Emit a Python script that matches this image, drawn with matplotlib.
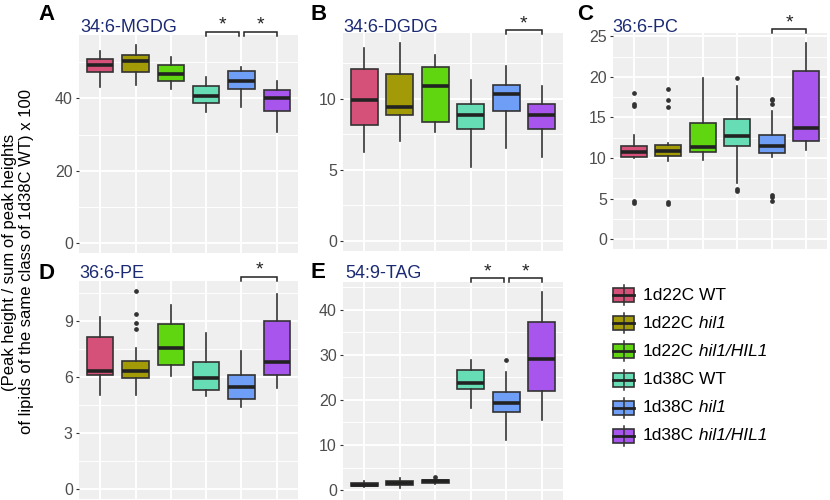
import matplotlib
matplotlib.use('Agg')
import matplotlib.pyplot as plt
import matplotlib.transforms as mtransforms
from matplotlib.patches import Rectangle

plt.rcParams['font.family'] = ['Liberation Sans', 'DejaVu Sans']

# groups / colours (legend text: plain part + italic part)
label_plain = ['1d22C WT', '1d22C', '1d22C', '1d38C WT', '1d38C', '1d38C']
label_ital = ['', 'hil1', 'hil1/HIL1', '', 'hil1', 'hil1/HIL1']
colors = ['#D6517A', '#A39A08', '#5FD60F', '#66DDB4', '#6E9EF6', '#A855EE']

# A: 34:6-MGDG
mgdg_lo = [43.2, 43.8, 42.6, 36.1, 37.7, 30.8]
mgdg_q1 = [47.2, 47.3, 44.9, 38.6, 42.7, 36.4]
mgdg_med = [49.3, 50.2, 46.6, 40.6, 44.7, 40.0]
mgdg_q3 = [51.0, 52.0, 49.1, 43.4, 47.5, 42.2]
mgdg_hi = [53.0, 54.8, 51.4, 45.9, 48.7, 44.9]
mgdg_out = [[], [], [], [], [], []]

# B: 34:6-DGDG
dgdg_lo = [6.25, 7.0, 7.67, 5.22, 6.55, 5.9]
dgdg_q1 = [8.11, 8.83, 8.34, 7.88, 9.11, 7.83]
dgdg_med = [9.93, 9.42, 10.86, 8.83, 10.35, 8.81]
dgdg_q3 = [12.1, 11.73, 12.22, 9.63, 10.98, 9.63]
dgdg_hi = [13.55, 13.9, 13.03, 11.33, 12.26, 10.86]
dgdg_out = [[], [], [], [], [], []]

# C: 36:6-PC
pc_lo = [10.0, 9.65, 9.73, 6.9, 10.1, 10.97]
pc_q1 = [10.14, 10.2, 10.76, 11.47, 10.6, 12.1]
pc_med = [10.76, 10.9, 11.4, 12.7, 11.5, 13.74]
pc_q3 = [11.5, 11.6, 14.37, 14.8, 12.83, 20.7]
pc_hi = [12.83, 11.9, 19.9, 18.9, 15.85, 24.2]
pc_out = [[18.0, 16.7, 16.4, 4.67, 4.5],
          [18.5, 17.2, 16.3, 4.64, 4.4],
          [],
          [19.9, 6.2, 5.9],
          [17.27, 17.1, 16.7, 5.5, 5.26, 4.76],
          []]

# D: 36:6-PE
pe_lo = [5.03, 5.03, 6.06, 4.97, 4.4, 5.38]
pe_q1 = [6.1, 5.92, 6.63, 5.29, 4.81, 6.1]
pe_med = [6.33, 6.33, 7.52, 5.92, 5.47, 6.81]
pe_q3 = [8.11, 6.86, 8.81, 6.78, 6.1, 8.98]
pe_hi = [9.21, 7.52, 9.84, 8.33, 7.38, 10.41]
pe_out = [[], [10.59, 9.34, 8.9, 8.56], [], [], [], []]

# E: 54:9-TAG
tag_lo = [0.7, 0.5, 1.4, 18.2, 11.0, 15.6]
tag_q1 = [0.9, 1.1, 1.6, 22.5, 17.25, 21.9]
tag_med = [1.2, 1.5, 1.9, 23.8, 19.3, 29.0]
tag_q3 = [1.6, 1.9, 2.2, 26.6, 21.7, 37.3]
tag_hi = [1.9, 2.75, 2.4, 28.8, 26.2, 43.9]
tag_out = [[], [], [2.8], [], [28.9], []]

W, H = 830, 500
fig = plt.figure(figsize=(8.3, 5), dpi=100)
navy = '#1B2A73'


def px_axes(x0, y0, x1, y1):
    return fig.add_axes([x0 / W, 1 - y1 / H, (x1 - x0) / W, (y1 - y0) / H])


def panel(box, lo, q1, med, q3, hi, out, ylim, major, minor,
          title, letter, title_xy, letter_xy, pairs, bracket_y):
    ax = px_axes(*box)
    stats = [dict(whislo=lo[i], q1=q1[i], med=med[i], q3=q3[i],
                  whishi=hi[i], fliers=out[i]) for i in range(6)]
    bp = ax.bxp(stats, positions=range(1, 7), widths=0.75, patch_artist=True,
                showcaps=False,
                boxprops=dict(edgecolor='#333333', linewidth=1.2),
                whiskerprops=dict(color='#333333', linewidth=1.2),
                medianprops=dict(color='#222222', linewidth=2.6),
                flierprops=dict(marker='o', markersize=2.4, markerfacecolor='#333333',
                                markeredgecolor='#333333'))
    for patch, c in zip(bp['boxes'], colors):
        patch.set_facecolor(c)
    ax.set_facecolor('#EFEFEF')
    ax.set_xlim(0.4, 6.6)
    ax.set_ylim(*ylim)
    ax.set_xticks(range(1, 7))
    ax.set_xticklabels([])
    ax.tick_params(axis='x', length=0)
    ax.set_yticks(major)
    ax.set_yticks(minor, minor=True)
    ax.tick_params(axis='y', which='major', length=2.5, width=0.8, color='#333333',
                   labelsize=11.5, labelcolor='#4D4D4D', pad=2)
    ax.tick_params(axis='y', which='minor', length=0)
    ax.grid(True, which='major', color='white', linewidth=1.4)
    ax.grid(True, which='minor', axis='y', color='white', linewidth=0.7)
    ax.set_axisbelow(True)
    for s in ax.spines.values():
        s.set_visible(False)

    fig.text(title_xy[0] / W, 1 - title_xy[1] / H, title, color=navy,
             fontsize=13, ha='left', va='baseline')
    fig.text(letter_xy[0] / W, 1 - letter_xy[1] / H, letter, color='black',
             fontsize=16, fontweight='bold', ha='left', va='baseline')

    tr = mtransforms.blended_transform_factory(ax.transData, fig.transFigure)
    yb = 1 - bracket_y / H
    yt = 1 - (bracket_y + 4) / H
    for a, b in pairs:
        ax.plot([a, a, b, b], [yt, yb, yb, yt], color='#222222', linewidth=1.1,
                transform=tr, clip_on=False, solid_joinstyle='miter')
        ax.text((a + b) / 2, 1 - (bracket_y - 2) / H, '*', transform=tr,
                ha='center', va='baseline', fontsize=14, color='#222222')
    return ax


panel((79, 35, 298, 253), mgdg_lo, mgdg_q1, mgdg_med, mgdg_q3, mgdg_hi, mgdg_out,
      (-2.7, 57.5), [0, 20, 40], [10, 30, 50], '34:6-MGDG', 'A',
      (80, 32), (38, 20), [(4, 4.92), (5.08, 6)], 31.5)
panel((343, 33, 563, 251), dgdg_lo, dgdg_q1, dgdg_med, dgdg_q3, dgdg_hi, dgdg_out,
      (-0.7, 14.6), [0, 5, 10], [2.5, 7.5, 12.5], '34:6-DGDG', 'B',
      (343, 32), (310, 20), [(5, 6)], 30)
panel((613, 33, 827, 249), pc_lo, pc_q1, pc_med, pc_q3, pc_hi, pc_out,
      (-1.2, 25.4), [0, 5, 10, 15, 20, 25], [2.5, 7.5, 12.5, 17.5, 22.5],
      '36:6-PC', 'C', (612, 32), (577, 20), [(5, 6)], 29)
panel((79, 281, 298, 499), pe_lo, pe_q1, pe_med, pe_q3, pe_hi, pe_out,
      (-0.53, 11.12), [0, 3, 6, 9], [1.5, 4.5, 7.5, 10.5], '36:6-PE', 'D',
      (79, 278), (38, 279), [(5, 6)], 276.5)
panel((343, 282, 563, 500), tag_lo, tag_q1, tag_med, tag_q3, tag_hi, tag_out,
      (-2.2, 46.1), [0, 10, 20, 30, 40], [5, 15, 25, 35, 45], '54:9-TAG', 'E',
      (345, 278), (310, 278), [(4, 4.93), (5.07, 6)], 278)

# shared y label
fig.text(18 / W, 1 - 262 / H,
         '(Peak height / sum of peak heights\nof lipids of the same class of 1d38C WT) x 100',
         rotation=90, ha='center', va='center', fontsize=12, linespacing=1.15)

# legend
lax = px_axes(600, 280, 830, 455)
lax.set_xlim(600, 830)
lax.set_ylim(455, 280)
lax.axis('off')
for i, (plain, ital, c) in enumerate(zip(label_plain, label_ital, colors)):
    yc = 295 + i * 28.2
    lax.plot([623.5, 623.5], [yc - 10, yc + 10], color='#333333', linewidth=1.1)
    lax.add_patch(Rectangle((613, yc - 7), 21, 14, facecolor=c,
                            edgecolor='#333333', linewidth=1.2))
    lax.plot([613, 634], [yc, yc], color='#222222', linewidth=2.0)
    t = lax.text(643, yc, plain, fontsize=12.5, ha='left', va='center')
    if ital:
        lax.annotate(' ' + ital, xy=(1, 0), xycoords=t, ha='left', va='bottom',
                     fontsize=12.5, fontstyle='italic')

fig.savefig('out.png', dpi=100)
